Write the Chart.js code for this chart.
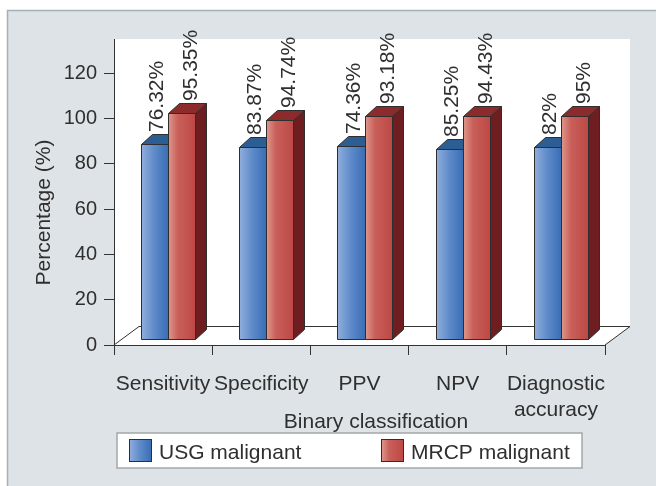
<!DOCTYPE html>
<html><head><meta charset="utf-8">
<script src="https://cdn.jsdelivr.net/npm/chart.js@4.4.1/dist/chart.umd.min.js"></script>
<style>html,body{margin:0;padding:0;background:#fff;}#wrap{width:656px;height:486px;}</style>
</head><body><div id="wrap"><canvas id="c" width="656" height="486"></canvas></div>
<script>
// ---- data ----
const categories = ['Sensitivity', 'Specificity', 'PPV', 'NPV', ['Diagnostic', 'accuracy']];
const seriesNames = ['USG malignant', 'MRCP malignant'];
// bar heights as drawn in the picture
const usgHeights = [86.0, 84.6, 85.3, 83.8, 84.6];
const mrcpHeights = [99.8, 96.5, 98.2, 98.4, 98.2];
// data labels printed above the bars
const usgLabels = ['76.32%', '83.87%', '74.36%', '85.25%', '82%'];
const mrcpLabels = ['95.35%', '94.74%', '93.18%', '94.43%', '95%'];
const yTicks = [0, 20, 40, 60, 80, 100, 120];
const xTitle = 'Binary classification';
const yTitle = 'Percentage (%)';

// ---- styles ----
const FONT = '"Liberation Sans", Arial, Helvetica, sans-serif';
const TEXT = '#2f2f2f';
const styles = [
  { stops: [[0, '#90aedb'], [0.5, '#5c89c9'], [1, '#3a6db4']], top: '#2c5d93', side: '#22497a', labelShift: 2.5 },
  { stops: [[0, '#de978b'], [0.35, '#c95f5a'], [1, '#bd4845']], top: '#8c2b2c', side: '#6e1e20', labelShift: 9 }
];
const labelSets = [usgLabels, mrcpLabels];
const FLOOR = { dx: 25, dy: -19 };
const OFF = { dx: 5, dy: -6 };
const DEPTH = { dx: 11, dy: -10 };

function grad(ctx, l, r, st) {
  const g = ctx.createLinearGradient(l, 0, r, 0);
  st.stops.forEach(s => g.addColorStop(s[0], s[1]));
  return g;
}
function poly(ctx, pts, fill) {
  ctx.beginPath();
  ctx.moveTo(pts[0][0], pts[0][1]);
  for (let k = 1; k < pts.length; k++) ctx.lineTo(pts[k][0], pts[k][1]);
  ctx.closePath();
  ctx.fillStyle = fill; ctx.fill();
  ctx.stroke();
}

const panelPlugin = {
  id: 'panel',
  beforeDraw(chart) {
    const ctx = chart.ctx, a = chart.chartArea, W = chart.width, H = chart.height;
    ctx.save();
    ctx.fillStyle = '#fff'; ctx.fillRect(0, 0, W, H);
    ctx.fillStyle = '#dde3e6'; ctx.fillRect(7, 10, W - 7, H - 10);
    ctx.strokeStyle = '#a9b0b3'; ctx.lineWidth = 1.5;
    ctx.beginPath(); ctx.moveTo(7.5, H); ctx.lineTo(7.5, 10.5); ctx.lineTo(W, 10.5); ctx.stroke();
    // white plot region incl. 3D floor
    ctx.fillStyle = '#fff';
    ctx.beginPath();
    ctx.moveTo(a.left, a.top);
    ctx.lineTo(a.right + FLOOR.dx, a.top);
    ctx.lineTo(a.right + FLOOR.dx, a.bottom + FLOOR.dy);
    ctx.lineTo(a.right, a.bottom);
    ctx.lineTo(a.left, a.bottom);
    ctx.closePath(); ctx.fill();
    // floor edges
    ctx.strokeStyle = '#333'; ctx.lineWidth = 1;
    const by = Math.round(a.bottom + FLOOR.dy) + 0.5;
    ctx.beginPath();
    ctx.moveTo(a.left, a.bottom);
    ctx.lineTo(a.left + FLOOR.dx, by);
    ctx.lineTo(a.right + FLOOR.dx, by);
    ctx.lineTo(a.right, a.bottom);
    ctx.stroke();
    ctx.restore();
  }
};

const bars3dPlugin = {
  id: 'bars3d',
  beforeDatasetsDraw(chart) {
    const ctx = chart.ctx;
    ctx.save();
    ctx.strokeStyle = '#2e2e2e';
    ctx.lineWidth = 1;
    ctx.lineJoin = 'miter';
    const tops = [];
    chart.data.datasets.forEach((ds, di) => {
      const meta = chart.getDatasetMeta(di);
      const st = styles[di];
      meta.data.forEach((bar, i) => {
        const p = bar.getProps(['x', 'y', 'base', 'width'], true);
        const l = Math.round(p.x - p.width / 2 + OFF.dx) + 0.5;
        const r = Math.round(p.x + p.width / 2 + OFF.dx) + 0.5;
        const t = Math.round(p.y + OFF.dy) + 0.5;
        const b = Math.round(p.base + OFF.dy) + 0.5;
        poly(ctx, [[r, b], [r + DEPTH.dx, b + DEPTH.dy], [r + DEPTH.dx, t + DEPTH.dy], [r, t]], st.side);
        poly(ctx, [[l, t], [l + DEPTH.dx, t + DEPTH.dy], [r + DEPTH.dx, t + DEPTH.dy], [r, t]], st.top);
        poly(ctx, [[l, t], [r, t], [r, b], [l, b]], grad(ctx, l, r, st));
        tops.push({ x: (l + r) / 2 + st.labelShift, y: t + DEPTH.dy - 2.5, text: labelSets[di][i] });
      });
    });
    ctx.fillStyle = TEXT;
    ctx.font = '21px ' + FONT;
    ctx.textAlign = 'left';
    ctx.textBaseline = 'middle';
    tops.forEach(o => {
      ctx.save();
      ctx.translate(o.x, o.y);
      ctx.rotate(-Math.PI / 2);
      ctx.fillText(o.text, 0, 0);
      ctx.restore();
    });
    ctx.restore();
    return false;
  }
};

const decorPlugin = {
  id: 'decor',
  afterDraw(chart) {
    const ctx = chart.ctx;
    ctx.save();
    ctx.font = '21px ' + FONT;
    ctx.textBaseline = 'alphabetic';
    // legend
    ctx.fillStyle = '#fff';
    ctx.fillRect(117, 433, 465, 35);
    ctx.strokeStyle = '#a3a8ab'; ctx.lineWidth = 1.5;
    ctx.strokeRect(117, 433, 465, 35);
    const sx = [129, 381];
    chart.data.datasets.forEach((ds, di) => {
      const x = sx[di] + 0.5, y = 439.5, s = 22;
      ctx.fillStyle = grad(ctx, x, x + s, styles[di]);
      ctx.fillRect(x, y, s, s);
      ctx.strokeStyle = '#2e2e2e'; ctx.lineWidth = 1;
      ctx.strokeRect(x, y, s, s);
      ctx.fillStyle = TEXT;
      ctx.textAlign = 'left';
      ctx.fillText(ds.label, sx[di] + s + 8, 459);
    });
    // axis titles
    ctx.fillStyle = TEXT;
    ctx.textAlign = 'center';
    ctx.fillText(xTitle, 376, 428);
    ctx.save();
    ctx.translate(49.5, 212.5);
    ctx.rotate(-Math.PI / 2);
    ctx.fillText(yTitle, 0, 0);
    ctx.restore();
    ctx.restore();
  }
};

Chart.defaults.font.family = FONT;
Chart.defaults.color = TEXT;

new Chart(document.getElementById('c'), {
  type: 'bar',
  data: {
    labels: categories,
    datasets: [
      { label: seriesNames[0], data: usgHeights, backgroundColor: '#4f81bd' },
      { label: seriesNames[1], data: mrcpHeights, backgroundColor: '#c0504d' }
    ]
  },
  options: {
    responsive: false,
    animation: false,
    devicePixelRatio: 1,
    layout: { padding: { top: 39, right: 51, left: 0, bottom: 0 } },
    datasets: { bar: { barPercentage: 1, categoryPercentage: 0.55 } },
    plugins: { legend: { display: false }, tooltip: { enabled: false }, title: { display: false } },
    scales: {
      x: {
        offset: true,
        grid: { offset: true, drawOnChartArea: false, tickLength: 10, color: '#333' },
        border: { color: '#333', width: 1 },
        ticks: { autoSkip: false, maxRotation: 0, minRotation: 0, padding: 17, font: { size: 21 }, color: TEXT },
        afterFit(s) { s.height = 141; }
      },
      y: {
        min: 0, max: 135,
        afterBuildTicks(s) { s.ticks = yTicks.map(v => ({ value: v })); },
        grid: { drawOnChartArea: false, tickLength: 10, color: '#333' },
        border: { color: '#333', width: 1 },
        ticks: { padding: 7, font: { size: 20 }, color: TEXT },
        afterFit(s) { s.width = 114; }
      }
    }
  },
  plugins: [panelPlugin, bars3dPlugin, decorPlugin]
});
</script>
</body></html>
